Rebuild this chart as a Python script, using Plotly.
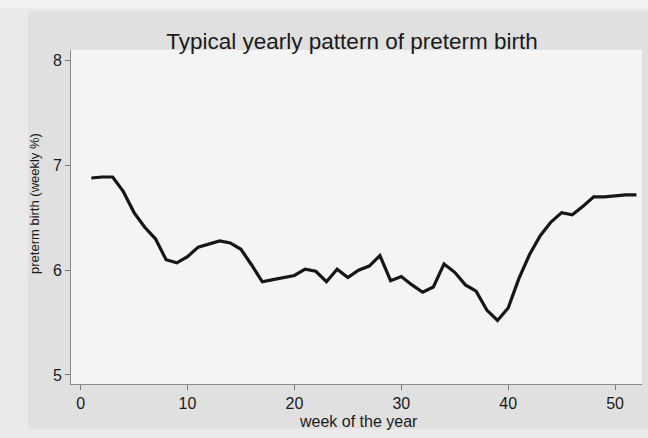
import plotly.graph_objects as go

weeks = list(range(1, 53))
preterm_pct = [6.88, 6.89, 6.89, 6.75, 6.55, 6.41, 6.30, 6.10, 6.07, 6.13,
               6.22, 6.25, 6.28, 6.26, 6.20, 6.05, 5.89, 5.91, 5.93, 5.95,
               6.01, 5.99, 5.89, 6.01, 5.93, 6.00, 6.04, 6.14, 5.90, 5.94,
               5.86, 5.79, 5.84, 6.06, 5.98, 5.86, 5.80, 5.62, 5.52, 5.64,
               5.92, 6.15, 6.33, 6.46, 6.55, 6.53, 6.61, 6.70, 6.70, 6.71,
               6.72, 6.72]
x_ticks = [0, 10, 20, 30, 40, 50]
y_ticks = [5, 6, 7, 8]

W, H = 648, 438
L, R, T, B = 71, 642, 50, 384

def px(x):
    return (x - L) / (R - L)

def py(y):
    return (B - y) / (B - T)

fig = go.Figure()
fig.add_trace(go.Scatter(x=weeks, y=preterm_pct, mode="lines",
                         line=dict(color="#161616", width=3.2),
                         hoverinfo="skip", showlegend=False))

font = "Liberation Sans, Arial, sans-serif"
txt = "#1a1a1a"
fig.update_layout(
    width=W, height=H,
    margin=dict(l=L, r=W - R, t=T, b=H - B),
    paper_bgcolor="#eaeaea",
    plot_bgcolor="#f4f4f4",
    font=dict(family=font, color=txt, size=16),
    title=dict(text="Typical yearly pattern of preterm birth",
               x=352 / W, xanchor="center", y=1 - 41 / H, yanchor="middle",
               font=dict(size=22.5, color=txt)),
    xaxis=dict(range=[-0.9, 52.52], tickvals=x_ticks, ticks="outside",
               ticklen=5, tickcolor="#777", showgrid=False, zeroline=False,
               showline=True, linecolor="#8a8a8a", linewidth=1,
               tickfont=dict(size=16), fixedrange=True),
    yaxis=dict(range=[4.914, 8.102], tickvals=y_ticks, ticks="outside",
               ticklen=5, tickcolor="#777", showgrid=False, zeroline=False,
               showline=True, linecolor="#8a8a8a", linewidth=1,
               tickfont=dict(size=16), fixedrange=True),
    shapes=[
        dict(type="rect", xref="paper", yref="paper", layer="below",
             x0=px(28), x1=px(648), y0=py(429), y1=py(11),
             fillcolor="#e0e0e0", line=dict(width=0)),
        dict(type="rect", xref="paper", yref="paper", layer="below",
             x0=px(0), x1=px(648), y0=py(8), y1=py(0),
             fillcolor="#f2f2f2", line=dict(width=0)),
        dict(type="rect", xref="paper", yref="paper", layer="below",
             x0=0, x1=1, y0=0, y1=1,
             fillcolor="#f4f4f4", line=dict(width=0)),
    ],
    annotations=[
        dict(text="week of the year", xref="paper", yref="paper",
             x=px(358), y=py(422), xanchor="center", yanchor="middle",
             showarrow=False, font=dict(size=16, color=txt)),
        dict(text="preterm birth (weekly %)", xref="paper", yref="paper",
             x=px(34), y=py(204), xanchor="center", yanchor="middle",
             textangle=-90, showarrow=False,
             font=dict(size=13, color=txt)),
    ],
)

fig.write_html("out.html", config={"displayModeBar": False},
               post_script="document.body.style.margin='0';document.body.style.padding='0';")
